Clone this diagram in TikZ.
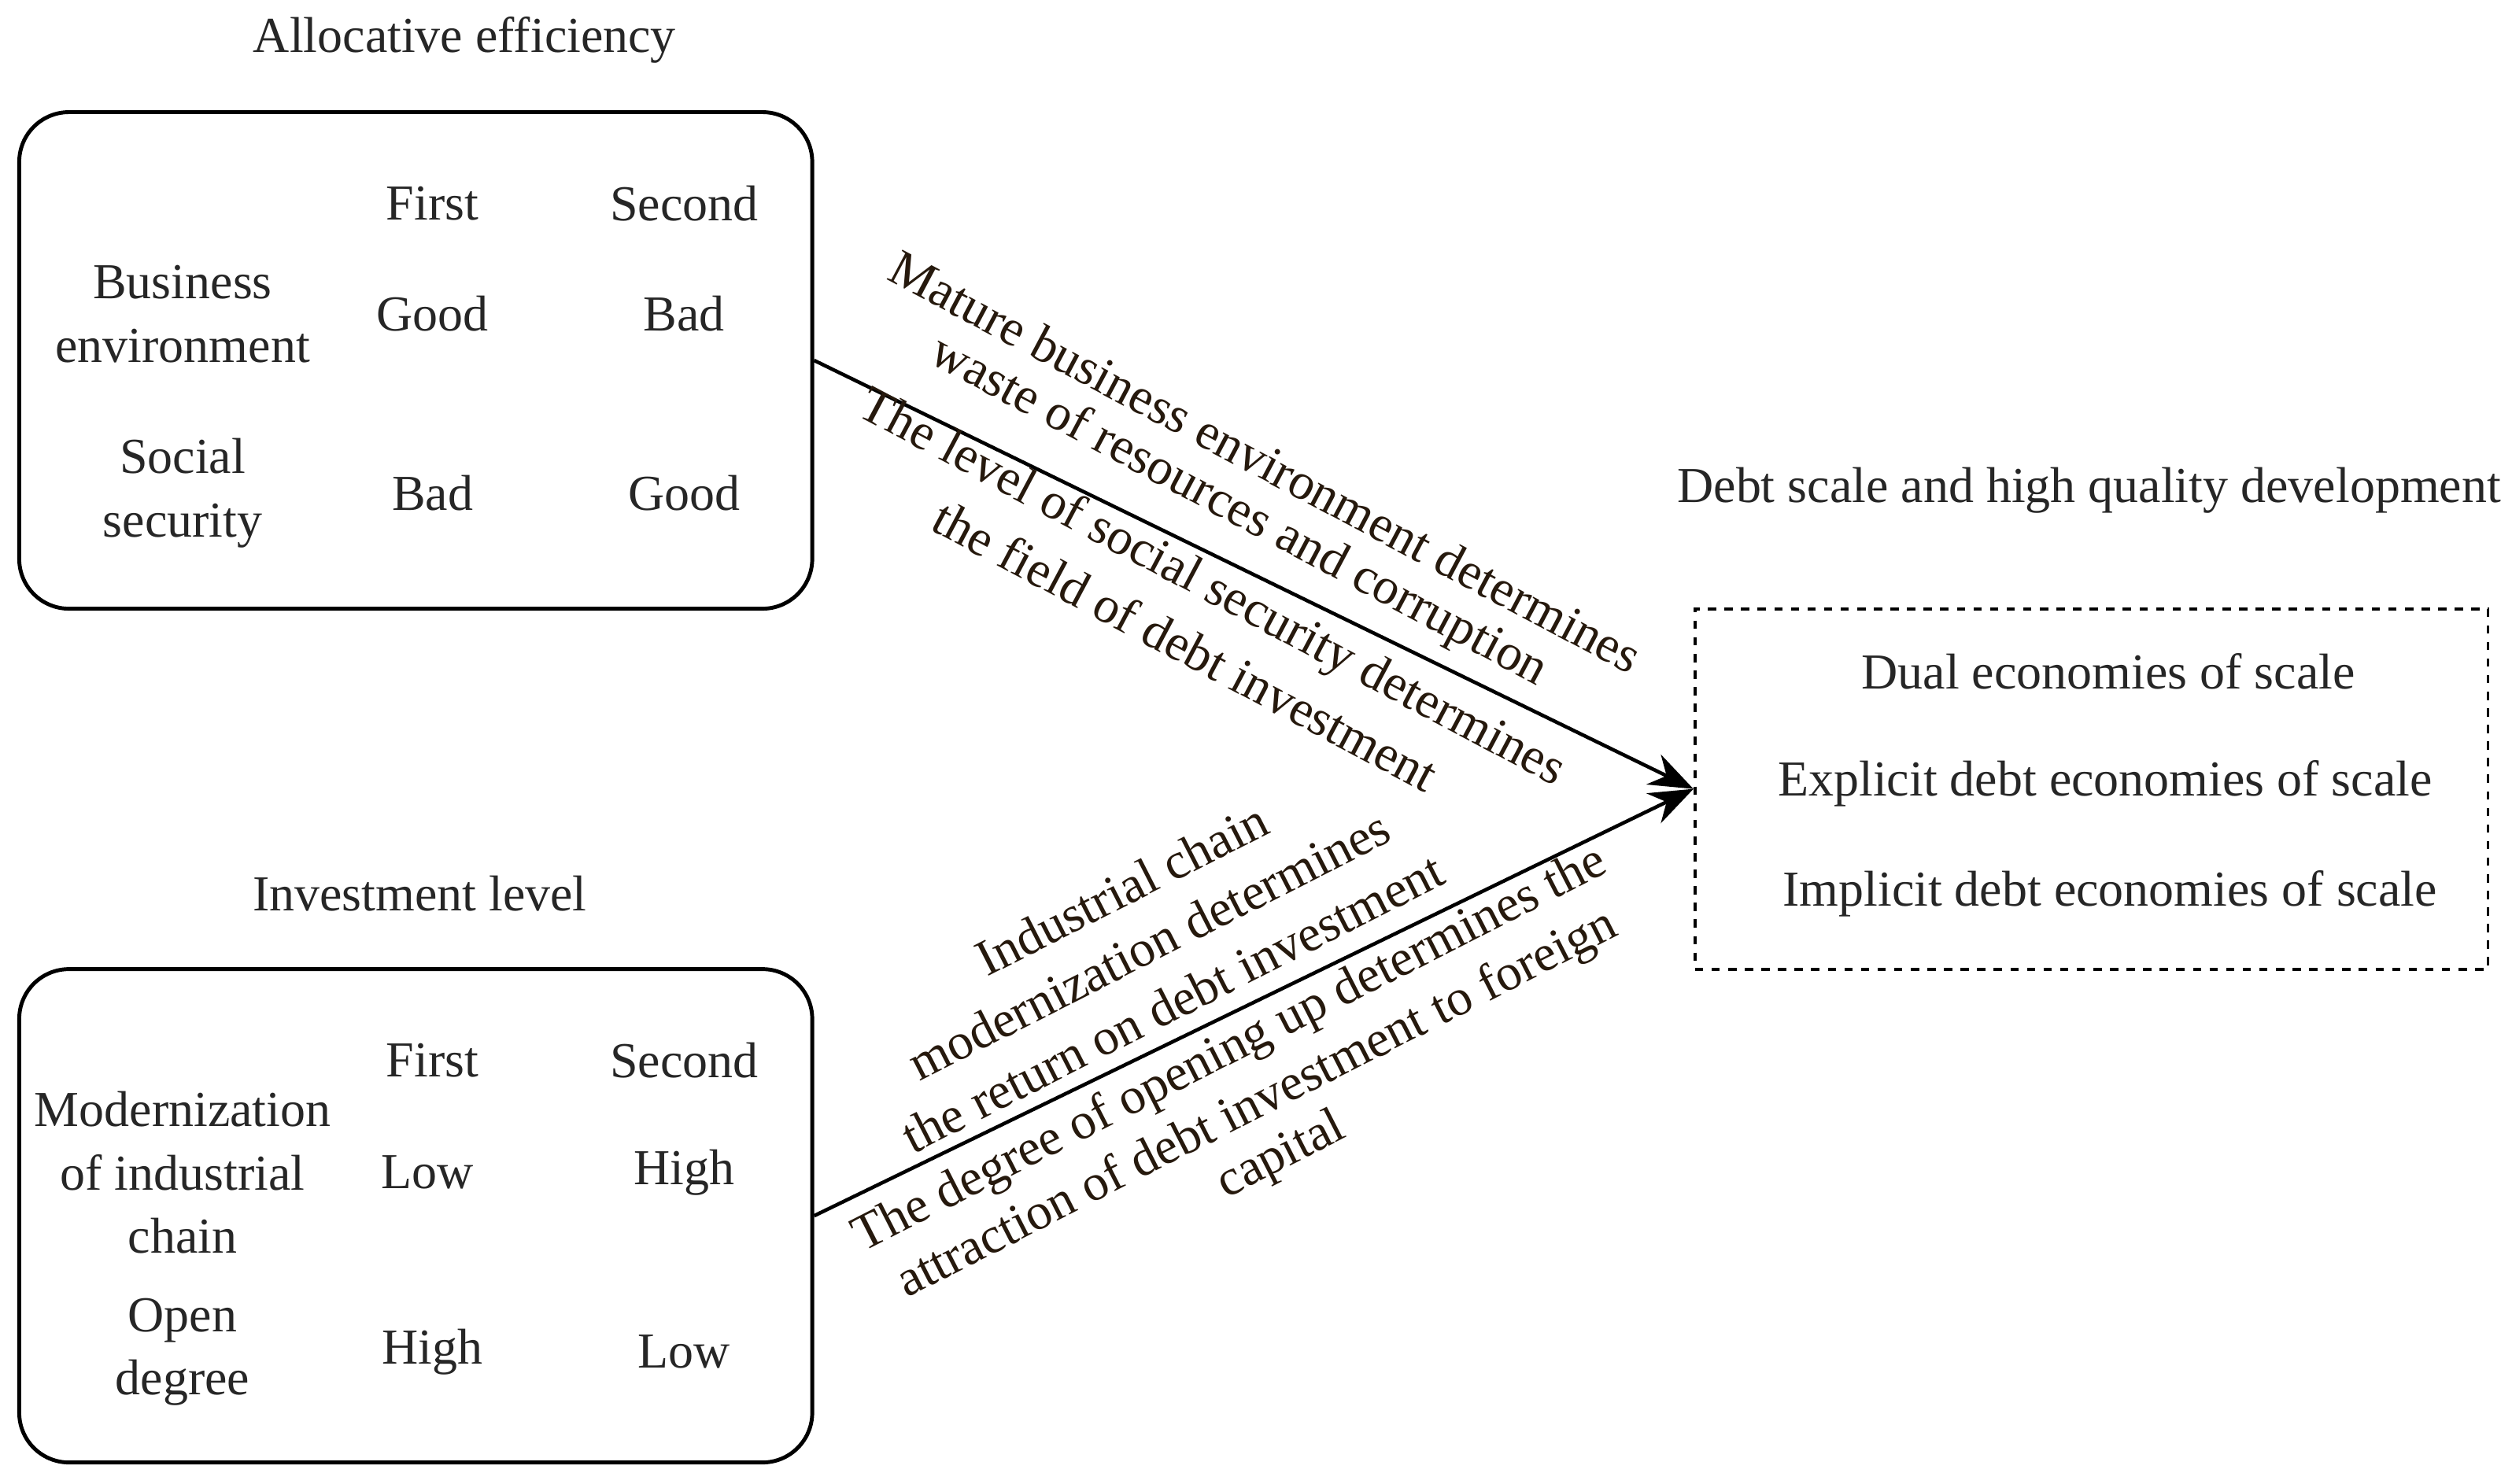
\documentclass[tikz,border=0pt]{standalone}
\usepackage{fontspec}
\setmainfont{Liberation Serif}
\usetikzlibrary{arrows.meta}
\begin{document}
\begin{tikzpicture}[x=0.02036cm,y=-0.02036cm,
  t/.style={font=\fontsize{18.2}{23}\selectfont,inner sep=0pt,align=center,text=black!85},
  r/.style={font=\fontsize{18.5}{20}\selectfont,inner sep=0pt,text=black!80!brown},
  box/.style={draw,line width=1.4pt,rounded corners=18pt},
  arr/.style={line width=1.3pt,-{Stealth[length=16pt,width=12pt]}}]
\useasboundingbox (0,0) rectangle (1568,926);
\node[box,minimum width=495*0.02036cm,minimum height=310*0.02036cm] (b1) at (259.5,225) {};
\node[box,minimum width=495*0.02036cm,minimum height=308*0.02036cm] (b2) at (259.5,759) {};
\node[draw,dashed,line width=1.1pt,minimum width=495*0.02036cm,minimum height=225*0.02036cm,inner sep=0pt] (b3) at (1305.5,492.5) {};
\node[t] (h1) at (290,25) {Allocative efficiency};
\node[t] (h2) at (262,558) {Investment level};
\node[t] (h3) at (1304,306) {Debt scale and high quality development};
\node[t] (a1) at (270,127) {First};
\node[t] (a2) at (427,127) {Second};
\node[t] (a3) at (114,196) {Business\\environment};
\node[t] (a4) at (270,196) {Good};
\node[t] (a5) at (427,196) {Bad};
\node[t] (a6) at (114,308) {Social\\security};
\node[t] (a7) at (270,308) {Bad};
\node[t] (a8) at (427,308) {Good};
\node[t] (c1) at (270,662) {First};
\node[t] (c2) at (427,662) {Second};
\node[t] (c3) at (114,732) {Modernization\\of industrial\\chain};
\node[t] (c4) at (267,732) {Low};
\node[t] (c5) at (427,732) {High};
\node[t] (c6) at (114,844) {Open\\degree};
\node[t] (c7) at (270,844) {High};
\node[t] (c8) at (427,844) {Low};
\node[t] (d1) at (1316,419) {Dual economies of scale};
\node[t] (d2) at (1314,489) {Explicit debt economies of scale};
\node[t] (d3) at (1317,558) {Implicit debt economies of scale};
\coordinate (tip) at (b3.west);
\draw[arr] (b1.east) -- (tip);
\draw[arr] (b2.east) -- (tip);
\node[r,rotate=-28] (m1) at (790,288) {Mature business environment determines};
\node[r,rotate=-28] (m2) at (773,320) {waste of resources and corruption};
\node[r,rotate=-28] (m3) at (756,368) {The level of social security determines};
\node[r,rotate=-28] (m4) at (740,403) {the field of debt investment};
\node[r,rotate=27] (n1) at (700,555) {Industrial chain};
\node[r,rotate=27] (n2) at (717,590) {modernization determines};
\node[r,rotate=27] (n3) at (732,626) {the return on debt investment};
\node[r,rotate=27] (n4) at (768,656) {The degree of opening up determines the};
\node[r,rotate=27] (n5) at (785,690) {attraction of debt investment to foreign};
\node[r,rotate=27] (n6) at (800,722) {capital};
\end{tikzpicture}
\end{document}
